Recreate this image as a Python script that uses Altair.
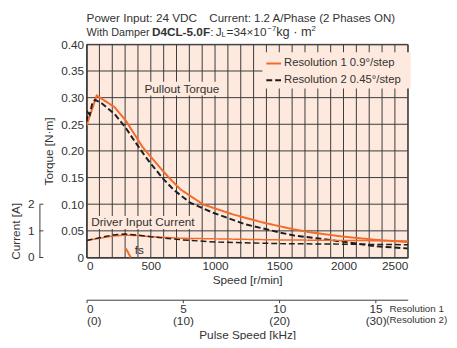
import altair as alt
import pandas as pd

FONT = "Liberation Sans, Arial, sans-serif"
ORANGE = "#f26b2a"
BLACK = "#1e1e1e"
BG = "#fde9dd"
GRID = "#3a3a3a"
TXT = "#333333"

SERIES = ["Resolution 1   0.9°/step", "Resolution 2   0.45°/step"]

# Pullout torque, Resolution 1 (0.9°/step)
speed1 = [0, 79, 219, 308, 436, 560, 640, 730, 907, 1137, 1366, 1608, 1748, 2003, 2258, 2500]
torque1 = [0.248, 0.304, 0.282, 0.256, 0.207, 0.172, 0.150, 0.128, 0.0995, 0.081, 0.066, 0.053, 0.047, 0.039, 0.033, 0.029]
# Pullout torque, Resolution 2 (0.45°/step)
speed2 = [0, 10, 25, 45, 66, 120, 219, 300, 372, 450, 500, 602, 678, 805, 984, 1240, 1400, 1500, 1620, 1825, 2000, 2250, 2500]
torque2 = [0.255, 0.272, 0.268, 0.290, 0.296, 0.289, 0.269, 0.245, 0.219, 0.192, 0.176, 0.146, 0.127, 0.103, 0.084, 0.062, 0.053, 0.047, 0.041, 0.035, 0.0295, 0.021, 0.017]
# Driver input current [A]
cur_speed = [0, 100, 200, 300, 400, 500, 750, 1000, 1500, 2000, 2500]
current1 = [0.64, 0.72, 0.80, 0.84, 0.82, 0.78, 0.72, 0.70, 0.66, 0.64, 0.62]
current2 = [0.64, 0.74, 0.84, 0.88, 0.84, 0.78, 0.66, 0.58, 0.52, 0.50, 0.48]
# starting frequency marker
fs_speed = [306, 344]
fs_torque = [0.017, 0.0]

x_grid = list(range(0, 2501, 100))
x_labels = [0, 500, 1000, 1500, 2000, 2500]
y_ticks = [round(i * 0.05, 2) for i in range(9)]
cur_ticks = [0, 1, 2]
cur_tick_labels = ["0", "1", "2"]
khz_ticks = [0, 5, 10, 15]

W, H = 327, 217

pull = pd.concat([
    pd.DataFrame({"speed": speed1, "torque": torque1, "series": SERIES[0]}),
    pd.DataFrame({"speed": speed2, "torque": torque2, "series": SERIES[1]}),
])
cur = pd.concat([
    pd.DataFrame({"speed": cur_speed, "current": current1, "series": SERIES[0]}),
    pd.DataFrame({"speed": cur_speed, "current": current2, "series": SERIES[1]}),
])
fs = pd.DataFrame({"speed": fs_speed, "torque": fs_torque})
vgrid = pd.DataFrame({"speed": x_grid})
hgrid = pd.DataFrame({"torque": y_ticks})
cgrid = pd.DataFrame({"current": cur_ticks, "lab": cur_tick_labels})

xscale = alt.Scale(domain=[0, 2500], nice=False, zero=True)
yscale = alt.Scale(domain=[0, 0.4], nice=False)
cscale = alt.Scale(domain=[0, 2], range=[H, H - H * 0.25], nice=False)

AX = alt.Axis(orient="bottom", values=x_labels, format="d", labelOverlap=False,
              title="Speed [r/min]", grid=False, ticks=False, domain=True,
              labelPadding=3, titlePadding=3)
AY = alt.Axis(orient="left", values=y_ticks, format=".2f", labelOverlap=False,
              labelExpr="datum.value === 0 ? '0' : datum.label",
              title="Torque [N·m]", grid=False, ticks=False, domain=True,
              labelPadding=3, titlePadding=5)
AC = alt.Axis(orient="left", offset=48, values=cur_ticks, labels=False, ticks=False,
              title="Current [A]", grid=False, titlePadding=17)

legend = alt.Legend(title=None, orient="none", legendX=179, legendY=8, fillColor=BG,
                    padding=3, symbolType="stroke", symbolSize=225, symbolStrokeWidth=2,
                    labelFont=FONT, labelFontSize=11.5, labelColor=TXT, rowPadding=3,
                    symbolOffset=0, labelOffset=2)
color = alt.Color("series:N", scale=alt.Scale(domain=SERIES, range=[ORANGE, BLACK]), legend=legend)
dash = alt.StrokeDash("series:N", scale=alt.Scale(domain=SERIES, range=[[1, 0], [6, 3]]), legend=legend)

vlines = alt.Chart(vgrid).mark_rule(color=GRID, strokeWidth=1).encode(
    x=alt.X("speed:Q", scale=xscale, axis=AX))
hlines = alt.Chart(hgrid).mark_rule(color=GRID, strokeWidth=1).encode(
    y=alt.Y("torque:Q", scale=yscale, axis=AY))

pull_lines = alt.Chart(pull).mark_line(strokeWidth=2, clip=True).encode(
    x=alt.X("speed:Q", scale=xscale, axis=AX),
    y=alt.Y("torque:Q", scale=yscale, axis=AY),
    color=color, strokeDash=dash, detail="series:N")

fs_line = alt.Chart(fs).mark_line(color=ORANGE, strokeWidth=2).encode(
    x=alt.X("speed:Q", scale=xscale, axis=AX),
    y=alt.Y("torque:Q", scale=yscale, axis=AY))

def label_box(x1, x2, y1, y2):
    return alt.Chart().mark_rect(fill=BG).encode(
        x=alt.X(datum=x1, scale=xscale, axis=AX), x2=alt.X2(datum=x2),
        y=alt.Y(datum=y1, scale=yscale, axis=AY), y2=alt.Y2(datum=y2))

def label(text, xv, yv, align="left", size=12):
    return alt.Chart().mark_text(text=text, align=align, baseline="middle", font=FONT,
                                 fontSize=size, color=TXT).encode(
        x=alt.X(datum=xv, scale=xscale, axis=AX), y=alt.Y(datum=yv, scale=yscale, axis=AY))

def head(text, px, py, size=12, weight="normal"):
    return alt.Chart().mark_text(text=text, align="left", baseline="alphabetic", font=FONT,
                                 fontSize=size, fontWeight=weight, color=TXT).encode(
        x=alt.value(px), y=alt.value(py))

torque_group = alt.layer(
    vlines, hlines, pull_lines, fs_line,
    label_box(436, 1050, 0.304, 0.330),
    label("Pullout Torque", 742, 0.317, align="center"),
    label_box(30, 840, 0.0535, 0.078),
    label("Driver Input Current", 36, 0.066),
    label("fs", 375, 0.0147),
    head("Power Input: 24 VDC", 0, -23),
    head("Current: 1.2 A/Phase (2 Phases ON)", 125, -23, size=11.7),
    head("With Damper", 0, -9, size=11),
    head("D4CL-5.0F", 66.5, -9, size=12, weight="bold"),
    head(":", 126, -9),
    head("J", 131.5, -9),
    head("L", 137.5, -7, size=8),
    head("=34×10", 142.5, -9),
    head("−7", 184, -14, size=8),
    head("kg · m", 193, -9, size=13),
    head("2", 229, -14, size=8),
)

cur_lines = alt.Chart(cur).mark_line(strokeWidth=1.5).encode(
    x=alt.X("speed:Q", scale=xscale, axis=None),
    y=alt.Y("current:Q", scale=cscale, axis=AC),
    color=color, strokeDash=dash, detail="series:N")
cur_ticks_marks = alt.Chart(cgrid).mark_rule(color=GRID, strokeWidth=1).encode(
    x=alt.value(-48), x2=alt.value(-44),
    y=alt.Y("current:Q", scale=cscale, axis=AC))
cur_labels = alt.Chart(cgrid).mark_text(align="right", baseline="middle", font=FONT,
                                        fontSize=12, color=TXT).encode(
    x=alt.value(-53), y=alt.Y("current:Q", scale=cscale, axis=AC), text="lab:N")
cur_group = alt.layer(cur_lines, cur_ticks_marks, cur_labels)

pulse = alt.Chart(pd.DataFrame({"khz": [17.13]})).mark_text(
    text=["Resolution 1", "(Resolution 2)"], align="center", baseline="top", font=FONT,
    fontSize=10, lineHeight=11, color=TXT).encode(
    x=alt.X("khz:Q", scale=alt.Scale(domain=[0, 2500 / 150], nice=False), axis=alt.Axis(
        orient="bottom", offset=43, values=khz_ticks, format="d", labelOverlap=False,
        labelExpr="[datum.label, '(' + (datum.value * 2) + ')']",
        title="Pulse Speed [kHz]", grid=False, ticks=True, tickSize=3,
        labelLineHeight=12, labelPadding=1, titlePadding=3)),
    y=alt.value(H + 48))

chart = alt.layer(torque_group, cur_group, pulse).resolve_scale(
    x="independent", y="independent"
).properties(
    width=W, height=H,
    autosize=alt.AutoSizeParams(type="none"),
    padding={"left": 80, "top": 34, "right": 42, "bottom": 81},
).configure_view(
    fill=BG, stroke=GRID, strokeWidth=1
).configure_axis(
    labelFont=FONT, titleFont=FONT, labelFontSize=12, titleFontSize=12,
    titleFontWeight="normal", labelColor=TXT, titleColor=TXT,
    domainColor=GRID, tickColor=GRID
)

chart.save("out.html", embed_options={"renderer": "svg", "actions": False})
